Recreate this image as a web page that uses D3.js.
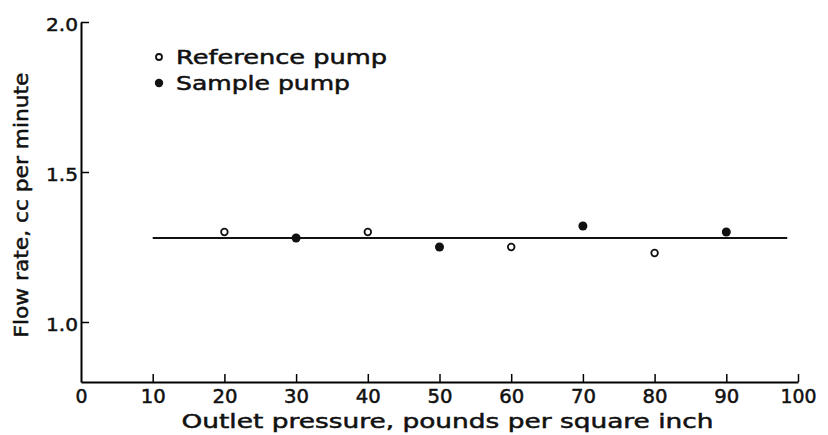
<!DOCTYPE html>
<html>
<head>
<meta charset="utf-8">
<script src="https://cdn.jsdelivr.net/npm/d3@7"></script>
<style>
  body { margin: 0; background: #fff; }
  text { font-family: "DejaVu Sans", sans-serif; fill: #111; stroke: #111; stroke-width: 0.5px; }
</style>
</head>
<body>
<div id="chart"></div>
<script>
// data
const refPressure = [20, 40, 60, 80];
const refFlow = [1.30, 1.30, 1.25, 1.23];
const samplePressure = [30, 50, 70, 90];
const sampleFlow = [1.28, 1.25, 1.32, 1.30];
const fitPressure = [10, 98.5];
const fitFlow = [1.28, 1.28];
const xTicks = [0, 10, 20, 30, 40, 50, 60, 70, 80, 90, 100];
const yTicks = [1.0, 1.5, 2.0];
const legendNames = ["Reference pump", "Sample pump"];

const width = 828;
const height = 435;
const margin = { top: 22, right: 30, bottom: 53, left: 81 };

const svg = d3.select("#chart").append("svg")
    .attr("width", width)
    .attr("height", height);

const x = d3.scaleLinear().domain([0, 100]).range([margin.left, 798]);
const y = d3.scaleLinear().domain([0.8, 2.0]).range([height - margin.bottom, margin.top]);

// axes
const xAxis = svg.append("g")
    .attr("transform", "translate(0," + y(0.8) + ")")
    .call(d3.axisBottom(x).tickValues(xTicks).tickSize(-8).tickSizeOuter(0).tickPadding(5).tickFormat(d3.format("d")));
xAxis.select(".domain").attr("stroke-width", 2);
xAxis.selectAll(".tick line").attr("stroke-width", 1.5).filter(d => d === 0).remove();
xAxis.selectAll(".tick text")
    .attr("font-size", 19)
    .attr("dy", "0.85em")
    .attr("textLength", d => d === 100 ? 36 : d === 0 ? 12 : 25)
    .attr("lengthAdjust", "spacingAndGlyphs")
    .style("fill", "#111");

const yAxis = svg.append("g")
    .attr("transform", "translate(" + x(0) + ",0)")
    .call(d3.axisLeft(y).tickValues(yTicks).tickSize(-8).tickSizeOuter(0).tickPadding(3).tickFormat(d3.format(".1f")));
yAxis.select(".domain").attr("stroke-width", 2);
yAxis.selectAll(".tick line").attr("stroke-width", 1.5);
yAxis.selectAll(".tick text")
    .attr("font-size", 18)
    .attr("dy", "0.45em")
    .attr("textLength", 32)
    .attr("lengthAdjust", "spacingAndGlyphs")
    .style("fill", "#111");

// axis titles
svg.append("text")
    .attr("x", (x(0) + x(100)) / 2 + 8)
    .attr("y", 428)
    .attr("text-anchor", "middle")
    .attr("font-size", 20)
    .attr("textLength", 532)
    .attr("lengthAdjust", "spacingAndGlyphs")
    .text("Outlet pressure, pounds per square inch");

svg.append("text")
    .attr("transform", "translate(28,205) rotate(-90)")
    .attr("text-anchor", "middle")
    .attr("font-size", 20)
    .attr("textLength", 265)
    .attr("lengthAdjust", "spacingAndGlyphs")
    .text("Flow rate, cc per minute");

// fitted line
svg.append("path")
    .datum(fitPressure.map((p, i) => [p, fitFlow[i]]))
    .attr("fill", "none")
    .attr("stroke", "#111")
    .attr("stroke-width", 2.2)
    .attr("d", d3.line().x(d => x(d[0])).y(d => y(d[1])));

// points
svg.selectAll(".ref")
    .data(refPressure.map((p, i) => [p, refFlow[i]]))
    .enter().append("circle")
    .attr("class", "ref")
    .attr("cx", d => x(d[0]))
    .attr("cy", d => y(d[1]))
    .attr("r", 3.3)
    .attr("fill", "#fff")
    .attr("stroke", "#111")
    .attr("stroke-width", 1.8);

svg.selectAll(".sample")
    .data(samplePressure.map((p, i) => [p, sampleFlow[i]]))
    .enter().append("circle")
    .attr("class", "sample")
    .attr("cx", d => x(d[0]))
    .attr("cy", d => y(d[1]))
    .attr("r", 4.5)
    .attr("fill", "#111");

// legend
const legend = svg.append("g").attr("transform", "translate(159,57)");
legend.append("circle").attr("r", 3).attr("fill", "#fff").attr("stroke", "#111").attr("stroke-width", 1.8);
legend.append("circle").attr("cy", 26).attr("r", 4.2).attr("fill", "#111");
legend.selectAll("text")
    .data(legendNames)
    .enter().append("text")
    .attr("x", 17)
    .attr("y", (d, i) => i * 26 + 7)
    .attr("font-size", 19)
    .attr("textLength", (d, i) => i === 0 ? 211 : 174)
    .attr("lengthAdjust", "spacingAndGlyphs")
    .text(d => d);
</script>
</body>
</html>
